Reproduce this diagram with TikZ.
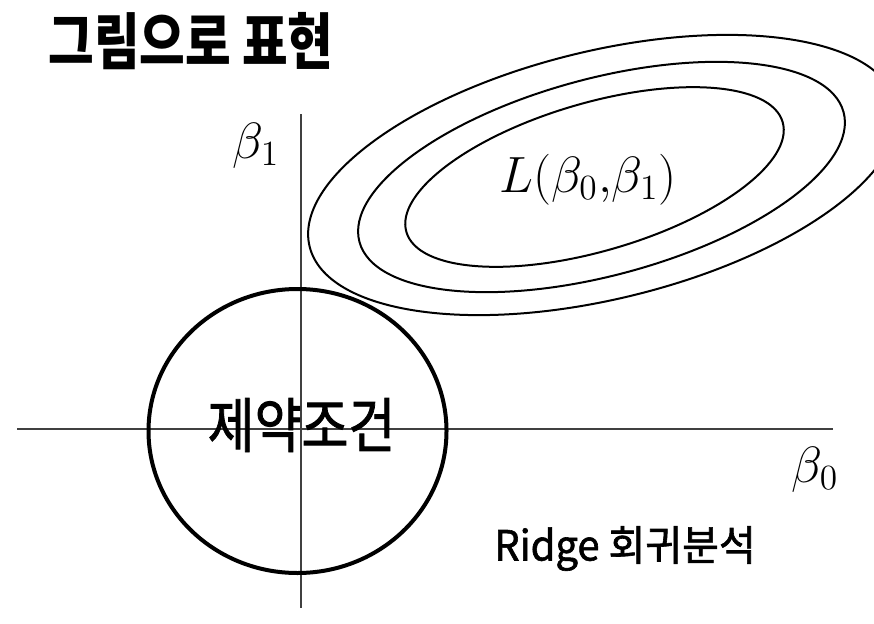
\documentclass[tikz,border=0pt]{standalone}
\usepackage{fontspec}
\newfontfamily\kr{Noto Sans CJK KR}
\newfontfamily\krmed[FakeBold=1.5]{Noto Sans CJK KR}
\begin{document}
\begin{tikzpicture}[x=1pt,y=1pt,
  axisline/.style={line width=1.3pt, draw=black!75},
  lossell/.style={line width=2pt, draw=black},
  constraint/.style={line width=4pt, draw=black},
  krlabel/.style={inner sep=0pt, transform shape},
  mathlabel/.style={inner sep=0pt, anchor=base west, font=\LARGE, scale=2.95, transform shape}]
\useasboundingbox (0,0) rectangle (874,-623);
\clip (0,0) rectangle (874,-623);
\fill[white] (0,0) rectangle (874,-623);
% axes
\coordinate (xl) at (17,-429);
\coordinate (xr) at (833,-429);
\coordinate (yt) at (301,-114);
\coordinate (yb) at (301,-608);
\draw[axisline] (xl) -- (xr);
\draw[axisline] (yt) -- (yb);
% loss contours
\draw[lossell, rotate around={16.3:(594.5,-177)}] (594.5,-177) ellipse [x radius=196, y radius=74];
\draw[lossell, rotate around={15:(601.5,-177)}] (601.5,-177) ellipse [x radius=250.6, y radius=98.5];
\draw[lossell, rotate around={13.7:(603,-175)}] (603,-175) ellipse [x radius=302, y radius=124];
% constraint region
\draw[constraint] (297.5,-431) ellipse [x radius=149, y radius=142];
% labels
\node[krlabel, font={\kr\bfseries\fontsize{49.6}{58}\selectfont}, yscale=1.24] (title) at (191,-41) {그림으로 표현};
\node[mathlabel] (b1) at (232,-158) {$\beta_1$};
\node[mathlabel] (b0) at (791,-482) {$\beta_0$};
\node[mathlabel] (loss) at (498.5,-192) {$L(\beta_0{,}\beta_1)$};
\node[krlabel, font={\krmed\fontsize{51}{60}\selectfont}, yscale=1.17] (cons) at (301.5,-425) {제약조건};
\node[krlabel, font={\krmed\fontsize{40}{48}\selectfont}, yscale=1.04] (ridge) at (625,-548.5) {Ridge 회귀분석};
\end{tikzpicture}
\end{document}
